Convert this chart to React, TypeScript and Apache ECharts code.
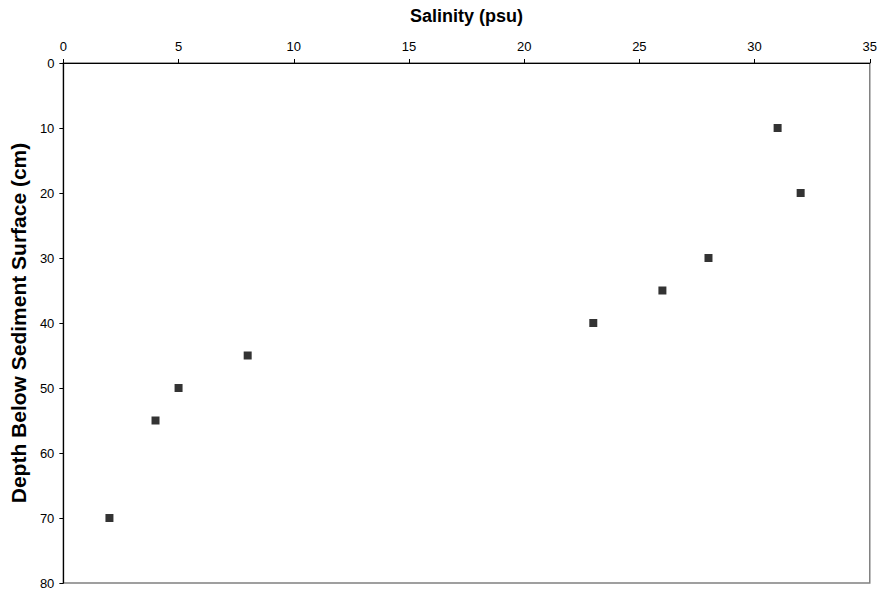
import React, { useEffect, useRef } from "react";
import * as echarts from "echarts";

const salinity = [31, 32, 28, 26, 23, 8, 5, 4, 2];
const depth = [10, 20, 30, 35, 40, 45, 50, 55, 70];
const xTitle = "Salinity (psu)";
const yTitle = "Depth Below Sediment Surface (cm)";

export default function App() {
  const ref = useRef<HTMLDivElement>(null);
  useEffect(() => {
    const chart = echarts.init(ref.current!, null, { renderer: "svg" });
    const font = "'Liberation Sans', Arial, sans-serif";
    chart.setOption({
      animation: false,
      backgroundColor: "#ffffff",
      grid: {
        left: 62,
        top: 63,
        width: 808,
        height: 520,
        show: true,
        borderColor: "#808080",
        borderWidth: 1.5,
        backgroundColor: "transparent",
      },
      xAxis: {
        type: "value",
        position: "top",
        min: 0,
        max: 35,
        interval: 5,
        name: xTitle,
        nameLocation: "middle",
        nameGap: 38,
        nameTextStyle: { fontFamily: font, fontSize: 18, fontWeight: "bold", color: "#000" },
        axisLine: { show: true, lineStyle: { color: "#000", width: 1.2 } },
        axisTick: { show: true, length: 4, lineStyle: { color: "#000" } },
        axisLabel: { fontFamily: font, fontSize: 13, color: "#000", margin: 10 },
        splitLine: { show: false },
      },
      yAxis: {
        type: "value",
        inverse: true,
        min: 0,
        max: 80,
        interval: 10,
        name: yTitle,
        nameLocation: "middle",
        nameGap: 27,
        nameRotate: 90,
        nameTextStyle: { fontFamily: font, fontSize: 21, fontWeight: "bold", color: "#000" },
        axisLine: { show: true, lineStyle: { color: "#000", width: 1.2 } },
        axisTick: { show: true, length: 4, lineStyle: { color: "#000" } },
        axisLabel: { fontFamily: font, fontSize: 13, color: "#000", margin: 9 },
        splitLine: { show: false },
      },
      series: [
        {
          type: "scatter",
          data: salinity.map((s, i) => [s, depth[i]]),
          symbol: "rect",
          symbolSize: 8,
          itemStyle: { color: "#000" },
        },
      ],
    });
    return () => chart.dispose();
  }, []);
  return <div ref={ref} style={{ width: 880, height: 596, position: "absolute", left: 0, top: 0 }} />;
}
